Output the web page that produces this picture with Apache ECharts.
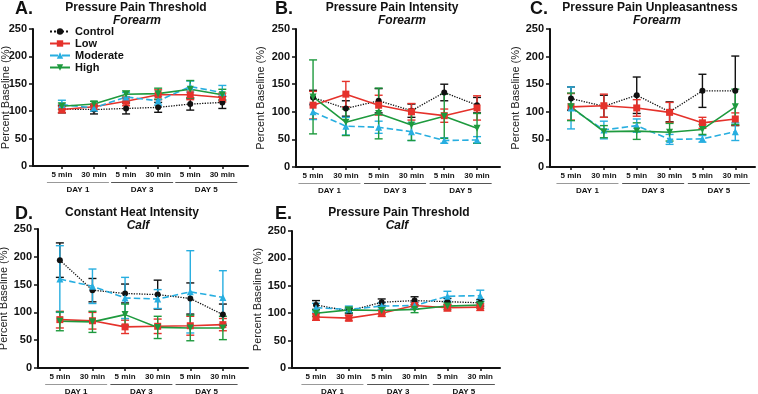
<!DOCTYPE html>
<html>
<head>
<meta charset="utf-8">
<script src="https://cdn.jsdelivr.net/npm/echarts@6/dist/echarts.min.js"></script>
<style>
  html, body { margin: 0; padding: 0; background: #fff; }
  #chart { width: 758px; height: 394px; }
</style>
</head>
<body>
<div id="chart"></div>
<script>
// x categories and day groups
const timeLabels = ["5 min", "30 min", "5 min", "30 min", "5 min", "30 min"];
const dayLabels = ["DAY 1", "DAY 3", "DAY 5"];
const groups = ["Control", "Low", "Moderate", "High"];

// A. Pressure Pain Threshold, forearm
const aControl = [104, 103, 105, 107, 113, 116];
const aControlErr = [7, 8, 10, 9, 11, 11];
const aLow = [103, 108, 118, 130, 130, 125];
const aLowErr = [6, 5, 8, 9, 9, 8];
const aModerate = [112, 106, 126, 119, 145, 134];
const aModerateErr = [8, 6, 8, 8, 10, 13];
const aHigh = [109, 113, 131, 132, 140, 130];
const aHighErr = [6, 5, 6, 10, 16, 10];

// B. Pressure Pain Intensity, forearm
const bControl = [126, 106, 120, 102, 135, 112];
const bControlErr = [13, 14, 22, 12, 15, 14];
const bLow = [112, 132, 112, 100, 93, 107];
const bLowErr = [25, 23, 18, 15, 12, 22];
const bModerate = [100, 74, 72, 64, 48, 49];
const bModerateErr = [14, 16, 11, 16, 5, 6];
const bHigh = [127, 81, 97, 76, 92, 70];
const bHighErr = [67, 24, 46, 28, 40, 27];

// C. Pressure Pain Unpleasantness, forearm
const cControl = [124, 110, 130, 100, 138, 138];
const cControlErr = [21, 20, 33, 18, 30, 63];
const cLow = [109, 111, 107, 99, 80, 87];
const cLowErr = [24, 21, 15, 18, 10, 11];
const cModerate = [107, 67, 75, 50, 51, 64];
const cModerateErr = [38, 16, 12, 9, 6, 16];
const cHigh = [109, 64, 65, 63, 68, 109];
const cHighErr = [25, 11, 15, 16, 9, 32];

// D. Constant Heat Intensity, calf
const dControl = [194, 140, 134, 132, 125, 96];
const dControlErr = [31, 21, 17, 26, 28, 19];
const dLow = [87, 85, 74, 75, 76, 78];
const dLowErr = [15, 15, 12, 13, 17, 11];
const dModerate = [160, 147, 126, 124, 137, 127];
const dModerateErr = [60, 31, 37, 17, 74, 48];
const dHigh = [84, 83, 96, 73, 72, 72];
const dHighErr = [17, 19, 19, 20, 23, 21];

// E. Pressure Pain Threshold, calf
const eControl = [115, 104, 120, 123, 121, 119];
const eControlErr = [8, 5, 6, 7, 6, 6];
const eLow = [93, 91, 100, 114, 110, 111];
const eLowErr = [6, 5, 6, 6, 6, 6];
const eModerate = [110, 107, 113, 114, 131, 132];
const eModerateErr = [8, 6, 6, 6, 9, 10];
const eHigh = [100, 106, 105, 107, 113, 115];
const eHighErr = [6, 5, 6, 6, 6, 6];

const FONT = "Liberation Sans";
const colors = { Control: "#111111", Low: "#e5322b", Moderate: "#27aee0", High: "#1e9a3e" };
const symbols = {
  Control: "circle",
  Low: "rect",
  Moderate: "triangle",
  High: "path://M0,0 L10,0 L5,10 Z"
};
const lineTypes = { Control: "dotted", Low: "solid", Moderate: "dashed", High: "solid" };

const panels = [
  { letter: "A.", title: "Pressure Pain Threshold", sub: "Forearm",
    grid: { left: 33, top: 29, width: 215, height: 137 }, xmin: -0.9, xmax: 5.8, nameGap: 22, tight: true,
    lx: 15, ty: 2, tx: 136, sx: 137,
    data: [[aControl, aControlErr], [aLow, aLowErr], [aModerate, aModerateErr], [aHigh, aHighErr]] },
  { letter: "B.", title: "Pressure Pain Intensity", sub: "Forearm",
    grid: { left: 296, top: 29, width: 204, height: 138 }, xmin: -0.52, xmax: 5.7, nameGap: 30,
    lx: 275, ty: 2, tx: 392, sx: 402,
    data: [[bControl, bControlErr], [bLow, bLowErr], [bModerate, bModerateErr], [bHigh, bHighErr]] },
  { letter: "C.", title: "Pressure Pain Unpleasantness", sub: "Forearm",
    grid: { left: 550, top: 29, width: 205, height: 138 }, xmin: -0.64, xmax: 5.6, nameGap: 28,
    lx: 530, ty: 2, tx: 650, sx: 657,
    data: [[cControl, cControlErr], [cLow, cLowErr], [cModerate, cModerateErr], [cHigh, cHighErr]] },
  { letter: "D.", title: "Constant Heat Intensity", sub: "Calf",
    grid: { left: 38, top: 229, width: 210, height: 139 }, xmin: -0.67, xmax: 5.77, nameGap: 24,
    lx: 15, ty: 207, tx: 132, sx: 138,
    data: [[dControl, dControlErr], [dLow, dLowErr], [dModerate, dModerateErr], [dHigh, dHighErr]] },
  { letter: "E.", title: "Pressure Pain Threshold", sub: "Calf",
    grid: { left: 292, top: 231, width: 208, height: 137 }, xmin: -0.73, xmax: 5.6, nameGap: 24,
    lx: 275, ty: 207, tx: 399, sx: 397,
    data: [[eControl, eControlErr], [eLow, eLowErr], [eModerate, eModerateErr], [eHigh, eHighErr]] }
];

function errorBar(color) {
  return function (params, api) {
    const x = api.value(0);
    const lo = api.coord([x, api.value(1)]);
    const hi = api.coord([x, api.value(2)]);
    const w = 4;
    const style = { stroke: color, lineWidth: 1.4 };
    return {
      type: "group",
      children: [
        { type: "line", shape: { x1: lo[0], y1: lo[1], x2: hi[0], y2: hi[1] }, style: style },
        { type: "line", shape: { x1: lo[0] - w, y1: lo[1], x2: lo[0] + w, y2: lo[1] }, style: style },
        { type: "line", shape: { x1: hi[0] - w, y1: hi[1], x2: hi[0] + w, y2: hi[1] }, style: style }
      ]
    };
  };
}

const titles = [], grids = [], xAxes = [], yAxes = [], series = [];

panels.forEach(function (p, i) {
  titles.push(
    { text: p.letter, left: p.lx, top: p.ty - 2, padding: 0,
      textStyle: { fontFamily: FONT, fontSize: 18, fontWeight: "bold", color: "#111" } },
    { text: p.title, left: p.tx, top: p.ty, textAlign: "center", padding: 0,
      textStyle: { fontFamily: FONT, fontSize: 12, fontWeight: "bold", color: "#111" } },
    { text: p.sub, left: p.sx, top: p.ty + 13, textAlign: "center", padding: 0,
      textStyle: { fontFamily: FONT, fontSize: 12, fontWeight: "bold", fontStyle: "italic", color: "#111" } }
  );
  grids.push(Object.assign({ outerBoundsMode: "none", containLabel: false }, p.grid));

  xAxes.push({
    type: "value", gridIndex: i, min: p.xmin, max: p.xmax, position: "bottom",
    splitLine: { show: false },
    axisLine: { show: true, onZero: false, lineStyle: { color: "#111", width: 2 } },
    axisTick: { show: true, customValues: [0, 1, 2, 3, 4, 5], length: 3, lineStyle: { color: "#111", width: 1.5 } },
    axisLabel: {
      customValues: [0, 1, 2, 3, 4, 5], margin: 5,
      fontFamily: FONT, fontSize: 8, fontWeight: "bold", color: "#111",
      formatter: function (v) { return timeLabels[Math.round(v)]; }
    }
  });
  xAxes.push({
    type: "value", gridIndex: i, min: p.xmin, max: p.xmax, position: "bottom", offset: 0,
    splitLine: { show: false }, axisLine: { show: false, onZero: false }, axisTick: { show: false },
    axisLabel: {
      customValues: [0.5, 2.5, 4.5], margin: 15,
      formatter: function (v) {
        const k = Math.round((v - 0.5) / 2);
        return "{" + (k === 0 ? "l1" : "l2") + "| }\n{d|" + dayLabels[k] + "}";
      },
      rich: {
        l1: { width: 62, height: 1, lineHeight: 3, fontSize: 1, backgroundColor: "#999" },
        l2: { width: 62, height: 1, lineHeight: 3, fontSize: 1, backgroundColor: "#555" },
        d: { fontFamily: FONT, fontSize: 8, fontWeight: "bold", color: "#111", lineHeight: 10, padding: [1, 0, 0, 0] }
      }
    }
  });
  yAxes.push({
    type: "value", gridIndex: i, min: 0, max: 250, interval: 50,
    name: "Percent Baseline (%)", nameLocation: "middle", nameGap: p.nameGap,
    nameMoveOverlap: p.tight ? false : true,
    nameTextStyle: { fontFamily: FONT, fontSize: 11, color: "#222" },
    splitLine: { show: false },
    axisLine: { show: true, onZero: false, lineStyle: { color: "#111", width: 2 } },
    axisTick: { show: true, length: 4, lineStyle: { color: "#111", width: 1.5 } },
    axisLabel: { fontFamily: FONT, fontSize: 11, fontWeight: "bold", color: "#111", margin: 6 }
  });

  groups.forEach(function (g, j) {
    const mean = p.data[j][0], err = p.data[j][1];
    series.push({
      type: "custom", xAxisIndex: 2 * i, yAxisIndex: i, z: 2,
      renderItem: errorBar(colors[g]),
      encode: { x: 0, y: [1, 2] },
      data: mean.map(function (m, k) { return [k, m - err[k], m + err[k]]; }),
      silent: true
    });
  });
  groups.forEach(function (g, j) {
    const mean = p.data[j][0];
    series.push({
      name: g, type: "line", xAxisIndex: 2 * i, yAxisIndex: i, z: 3,
      data: mean.map(function (m, k) { return [k, m]; }),
      symbol: symbols[g], symbolSize: g === "Control" ? 6 : 7,
      lineStyle: { color: colors[g], width: g === "Control" ? 1.3 : 1.6, type: lineTypes[g] },
      itemStyle: { color: colors[g] },
      animation: false
    });
  });
});

const chart = echarts.init(document.getElementById("chart"));
chart.setOption({
  animation: false,
  title: titles,
  grid: grids,
  xAxis: xAxes,
  yAxis: yAxes,
  legend: {
    data: groups, orient: "vertical", left: 44, top: 21,
    itemWidth: 20, itemHeight: 8, itemGap: 1,
    textStyle: { fontFamily: FONT, fontSize: 11, fontWeight: "bold", color: "#111", lineHeight: 11 }
  },
  series: series
});
</script>
</body>
</html>
